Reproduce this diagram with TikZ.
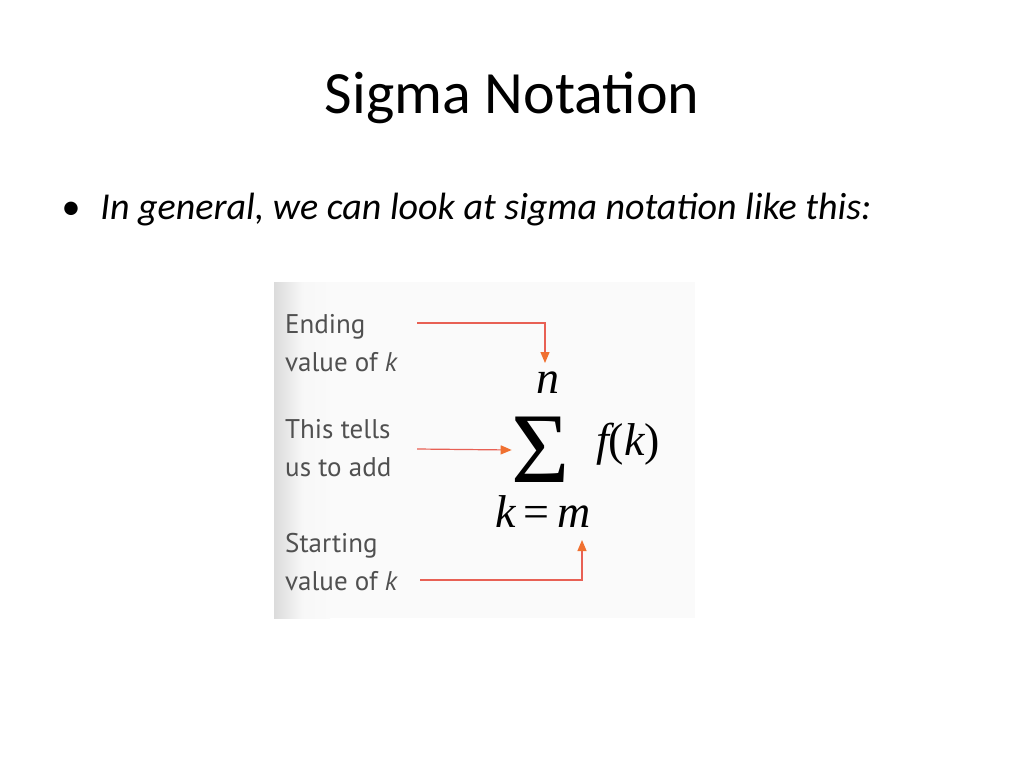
\documentclass[tikz,border=0pt]{standalone}
\usepackage{fontspec}
\setmainfont{Carlito}
\newfontfamily\insetfont{PT Sans}
\newfontfamily\mathserif{Liberation Serif}
\usetikzlibrary{arrows.meta, positioning}
\definecolor{linered}{RGB}{232,96,84}
\definecolor{tipor}{RGB}{240,112,48}
\definecolor{labelgray}{RGB}{80,80,80}
\tikzset{
    label/.style={anchor=west, align=left, text=labelgray, font=\insetfont\fontsize{27}{38}\selectfont, inner sep=0pt},
    pointer/.style={draw=linered, line width=1.2pt, -{Triangle[length=11pt, width=9pt, fill=tipor, color=tipor]}},
    mathtext/.style={inner sep=0pt, font=\mathserif\itshape\fontsize{46}{46}\selectfont}
}
\begin{document}
\begin{tikzpicture}[x=1pt, y=-1pt]
    \useasboundingbox (0,0) rectangle (1024,768);
    % Title and bullet
    \node[font=\fontsize{60}{60}\selectfont] (title) at (512,98) {Sigma Notation};
    \node[anchor=west, font=\fontsize{38}{38}\selectfont] (bullet) at (58,210) {\textbullet\hspace{20pt}\textit{In general, we can look at sigma notation like this:}};
    % Inset
    \shade[left color=black!14, right color=black!2, middle color=black!3] (274,282) rectangle (330,618);
    \fill[black!2] (330,282) rectangle (695,618);
    \node[label] (ending) at (285,343) {Ending\\value of \textit{k}};
    \node[label] (tells) at (285,448) {This tells\\us to add};
    \node[label] (starting) at (285,562) {Starting\\value of \textit{k}};
    % Sum
    \node[inner sep=0pt, font=\mathserif\fontsize{100}{100}\selectfont] (sigma) at (541,450) {Σ};
    \node[mathtext] (upper) at (548,383) {n};
    \node[mathtext] (lower) at (543,512) {k\,\upshape=\,\itshape m};
    \node[mathtext, anchor=west] (term) at (596,444) {f\upshape(\itshape k\upshape)};
    % Pointers
    \coordinate (c1) at (417,323);
    \coordinate (c2) at (545,323);
    \coordinate (c3) at (420,580);
    \coordinate (c4) at (582,580);
    \draw[pointer] (c1) -- (c2) -- ++(0,40);
    \draw[pointer] (417,449) -- (sigma.west);
    \draw[pointer] (c3) -- (c4) -- ++(0,-40);
\end{tikzpicture}
\end{document}
